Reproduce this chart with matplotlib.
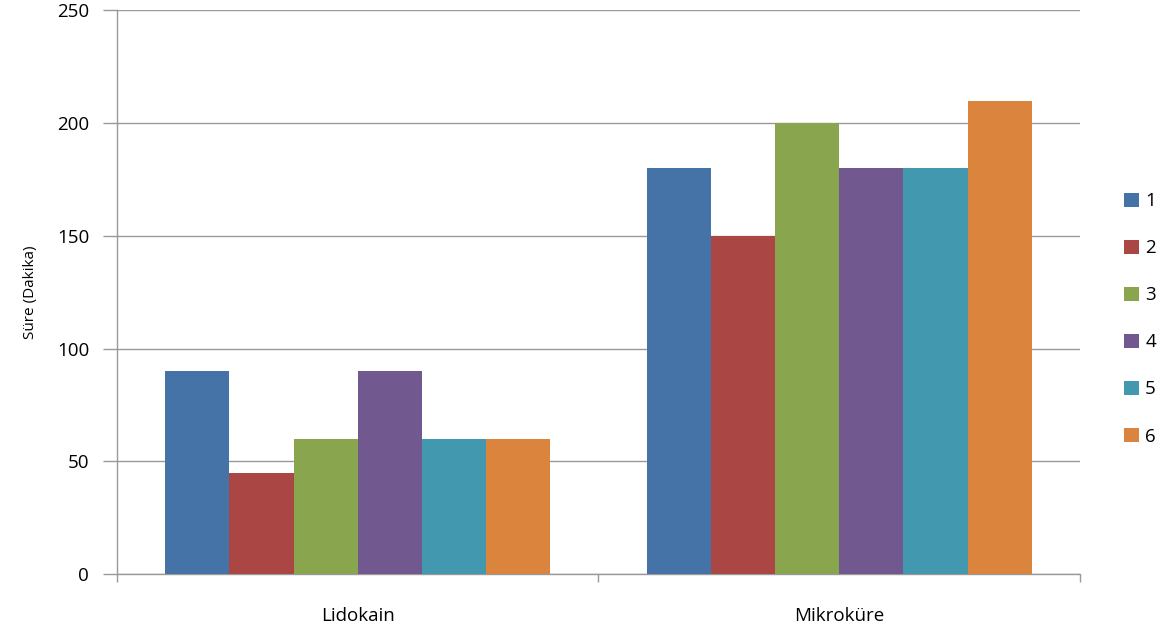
import numpy as np
import matplotlib.pyplot as plt

# Süre verileri (dakika)
categories = ['Lidokain', 'Mikroküre']
series_labels = ['1', '2', '3', '4', '5', '6']
values = [
    [90, 180],
    [45, 150],
    [60, 200],
    [90, 180],
    [60, 180],
    [60, 210],
]
colors = ['#4572A7', '#AA4643', '#89A54E', '#71588F', '#4198AF', '#DB843D']

plt.rcParams['font.family'] = ['Open Sans', 'DejaVu Sans']

fig = plt.figure(figsize=(11.7, 6.34), dpi=100)
ax = fig.add_axes([0.1, 0.0946, 0.823, 0.889])

x = np.arange(len(categories))
width = 0.8 / len(series_labels)
for i, (lab, vals) in enumerate(zip(series_labels, values)):
    ax.bar(x + (i - 2.5) * width, vals, width, color=colors[i], label=lab, zorder=3)

grid_color = '#999999'
ax.set_xlim(-0.5, 1.5)
ax.set_ylim(0, 250)
ax.set_yticks(range(0, 251, 50))
ax.yaxis.grid(True, color=grid_color, linewidth=1, zorder=0)
ax.set_xticks([-0.5, 0.5, 1.5], minor=False)
ax.set_xticklabels([])
ax.set_xticks(x, minor=True)
ax.set_xticklabels(categories, minor=True, fontsize=13.5)
ax.tick_params(axis='x', which='minor', length=0, pad=24)
ax.tick_params(axis='x', which='major', length=6, color=grid_color, width=1)
ax.tick_params(axis='y', length=10, color=grid_color, width=1, labelsize=13.5, pad=10)

for side in ['top', 'right']:
    ax.spines[side].set_visible(False)
for side in ['left', 'bottom']:
    ax.spines[side].set_color(grid_color)
    ax.spines[side].set_linewidth(1)

ax.set_ylabel('Süre (Dakika)', fontsize=11, labelpad=14)

leg = fig.legend(loc='center left', bbox_to_anchor=(0.954, 0.497), frameon=False,
                 fontsize=13.5, handlelength=0.8, handleheight=0.8, handletextpad=0.35,
                 labelspacing=1.55, borderaxespad=0)

fig.savefig('out.png', dpi=100)
